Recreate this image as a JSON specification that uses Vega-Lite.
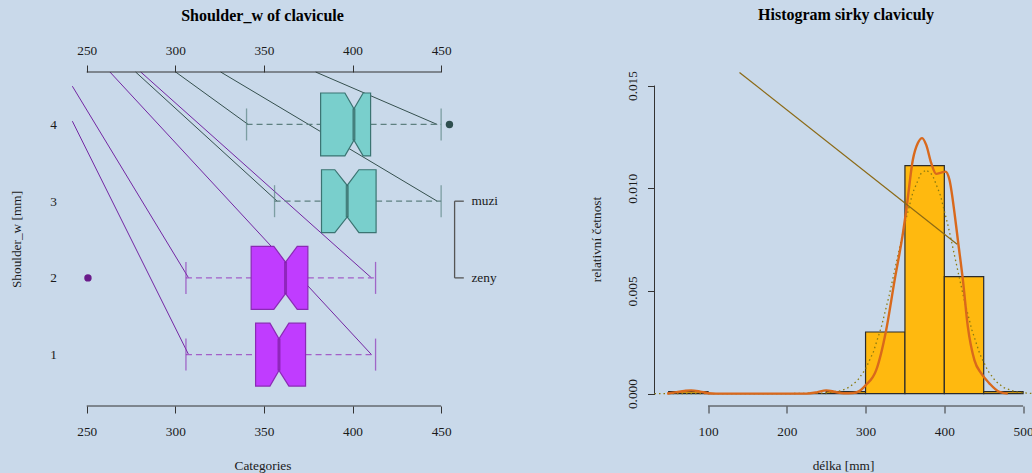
{
  "$schema": "https://vega.github.io/schema/vega-lite/v6.json",
  "background": "#c9d9ea",
  "padding": {"left": 9, "top": 6, "right": 0, "bottom": 0},
  "bounds": "flush",
  "spacing": 201.5,
  "config": {
    "view": {"stroke": null},
    "font": "Liberation Serif",
    "axis": {"labelFont": "Liberation Serif", "labelFontSize": 13.3, "labelColor": "#1a1a1a", "titleFont": "Liberation Serif", "titleFontSize": 13.3, "titleFontWeight": "normal", "titleColor": "#1a1a1a", "tickColor": "#333333", "tickSize": 7, "grid": false, "domain": false, "labelFlush": false, "labelOverlap": false},
    "title": {"font": "Liberation Serif", "fontSize": 16, "fontWeight": "bold", "color": "#000000", "baseline": "alphabetic", "frame": "group", "anchor": "middle"}
  },
  "datasets": {
    "one": [{"k": 1}],
    "seg": [
      {"g": "z", "x": 241.9, "y": 4.043, "x2": 307.5, "y2": 1},
      {"g": "z", "x": 241.9, "y": 4.499, "x2": 307.5, "y2": 2},
      {"g": "z", "x": 263.1, "y": 4.684, "x2": 410.7, "y2": 1},
      {"g": "z", "x": 280.5, "y": 4.684, "x2": 410.7, "y2": 2},
      {"g": "m", "x": 277.6, "y": 4.684, "x2": 357.5, "y2": 3},
      {"g": "m", "x": 300.2, "y": 4.684, "x2": 341.1, "y2": 4},
      {"g": "m", "x": 325.6, "y": 4.684, "x2": 447.8, "y2": 3},
      {"g": "m", "x": 379.2, "y": 4.684, "x2": 447.8, "y2": 4}
    ],
    "wh": [
      {"g": "m", "y": 4, "x": 340.2, "x2": 382.0},
      {"g": "m", "y": 4, "x": 410.2, "x2": 450},
      {"g": "m", "y": 3, "x": 356.0, "x2": 382.5},
      {"g": "m", "y": 3, "x": 413.3, "x2": 450},
      {"g": "z", "y": 2, "x": 306.0, "x2": 342.8},
      {"g": "z", "y": 2, "x": 374.8, "x2": 413},
      {"g": "z", "y": 1, "x": 306.0, "x2": 345.3},
      {"g": "z", "y": 1, "x": 373.5, "x2": 413}
    ],
    "caps": [
      {"g": "m", "y": 4, "x": 340.2}, {"g": "m", "y": 4, "x": 450},
      {"g": "m", "y": 3, "x": 356.0}, {"g": "m", "y": 3, "x": 450},
      {"g": "z", "y": 2, "x": 306.0}, {"g": "z", "y": 2, "x": 413},
      {"g": "z", "y": 1, "x": 306.0}, {"g": "z", "y": 1, "x": 413}
    ],
    "poly": [
      {"g": "m", "b": 4, "o": 1, "x": 382.0, "y": 3.59},
      {"g": "m", "b": 4, "o": 2, "x": 395.7, "y": 3.59},
      {"g": "m", "b": 4, "o": 3, "x": 400.8, "y": 3.795},
      {"g": "m", "b": 4, "o": 4, "x": 406.0, "y": 3.59},
      {"g": "m", "b": 4, "o": 5, "x": 410.2, "y": 3.59},
      {"g": "m", "b": 4, "o": 6, "x": 410.2, "y": 4.41},
      {"g": "m", "b": 4, "o": 7, "x": 406.0, "y": 4.41},
      {"g": "m", "b": 4, "o": 8, "x": 400.8, "y": 4.205},
      {"g": "m", "b": 4, "o": 9, "x": 395.7, "y": 4.41},
      {"g": "m", "b": 4, "o": 10, "x": 382.0, "y": 4.41},
      {"g": "m", "b": 3, "o": 1, "x": 382.5, "y": 2.59},
      {"g": "m", "b": 3, "o": 2, "x": 390.0, "y": 2.59},
      {"g": "m", "b": 3, "o": 3, "x": 397.0, "y": 2.795},
      {"g": "m", "b": 3, "o": 4, "x": 403.6, "y": 2.59},
      {"g": "m", "b": 3, "o": 5, "x": 413.3, "y": 2.59},
      {"g": "m", "b": 3, "o": 6, "x": 413.3, "y": 3.41},
      {"g": "m", "b": 3, "o": 7, "x": 403.6, "y": 3.41},
      {"g": "m", "b": 3, "o": 8, "x": 397.0, "y": 3.205},
      {"g": "m", "b": 3, "o": 9, "x": 390.0, "y": 3.41},
      {"g": "m", "b": 3, "o": 10, "x": 382.5, "y": 3.41},
      {"g": "z", "b": 2, "o": 1, "x": 342.8, "y": 1.59},
      {"g": "z", "b": 2, "o": 2, "x": 355.6, "y": 1.59},
      {"g": "z", "b": 2, "o": 3, "x": 362.2, "y": 1.795},
      {"g": "z", "b": 2, "o": 4, "x": 368.8, "y": 1.59},
      {"g": "z", "b": 2, "o": 5, "x": 374.8, "y": 1.59},
      {"g": "z", "b": 2, "o": 6, "x": 374.8, "y": 2.41},
      {"g": "z", "b": 2, "o": 7, "x": 368.8, "y": 2.41},
      {"g": "z", "b": 2, "o": 8, "x": 362.2, "y": 2.205},
      {"g": "z", "b": 2, "o": 9, "x": 355.6, "y": 2.41},
      {"g": "z", "b": 2, "o": 10, "x": 342.8, "y": 2.41},
      {"g": "z", "b": 1, "o": 1, "x": 345.3, "y": 0.59},
      {"g": "z", "b": 1, "o": 2, "x": 353.4, "y": 0.59},
      {"g": "z", "b": 1, "o": 3, "x": 358.5, "y": 0.795},
      {"g": "z", "b": 1, "o": 4, "x": 364.1, "y": 0.59},
      {"g": "z", "b": 1, "o": 5, "x": 373.5, "y": 0.59},
      {"g": "z", "b": 1, "o": 6, "x": 373.5, "y": 1.41},
      {"g": "z", "b": 1, "o": 7, "x": 364.1, "y": 1.41},
      {"g": "z", "b": 1, "o": 8, "x": 358.5, "y": 1.205},
      {"g": "z", "b": 1, "o": 9, "x": 353.4, "y": 1.41},
      {"g": "z", "b": 1, "o": 10, "x": 345.3, "y": 1.41}
    ],
    "med": [
      {"g": "m", "y": 4, "x": 400.8},
      {"g": "m", "y": 3, "x": 397.0},
      {"g": "z", "y": 2, "x": 362.2},
      {"g": "z", "y": 1, "x": 358.5}
    ],
    "out": [
      {"g": "m", "y": 4, "x": 454.7},
      {"g": "z", "y": 2, "x": 250.7}
    ],
    "leg": [
      {"label": "muzi", "y": 3},
      {"label": "zeny", "y": 2}
    ],
    "hist": [
      {"lo": 50, "hi": 100, "d": 0.0001},
      {"lo": 100, "hi": 150, "d": 0},
      {"lo": 150, "hi": 200, "d": 0},
      {"lo": 200, "hi": 250, "d": 0},
      {"lo": 250, "hi": 300, "d": 0.0001},
      {"lo": 300, "hi": 350, "d": 0.003},
      {"lo": 350, "hi": 400, "d": 0.0111},
      {"lo": 400, "hi": 450, "d": 0.0057},
      {"lo": 450, "hi": 500, "d": 0.0001}
    ],
    "kde": [
      {"x": 48, "y": 0}, {"x": 60, "y": 0.00007}, {"x": 70, "y": 0.00013}, {"x": 78.6, "y": 0.00016},
      {"x": 90, "y": 0.0001}, {"x": 100, "y": 0.00002}, {"x": 110, "y": 0}, {"x": 225, "y": 0},
      {"x": 238, "y": 0.00006}, {"x": 250, "y": 0.00016}, {"x": 262, "y": 0.00008}, {"x": 272, "y": 0.00002},
      {"x": 284, "y": 0.00003}, {"x": 292, "y": 0.00012}, {"x": 300, "y": 0.0004}, {"x": 313.5, "y": 0.00114},
      {"x": 326.2, "y": 0.0031}, {"x": 336.8, "y": 0.0055}, {"x": 347.4, "y": 0.0078}, {"x": 351.6, "y": 0.0089},
      {"x": 360, "y": 0.01138}, {"x": 366.4, "y": 0.0122}, {"x": 371.9, "y": 0.01244}, {"x": 377, "y": 0.01211},
      {"x": 383.4, "y": 0.01122}, {"x": 389.7, "y": 0.0107}, {"x": 396.1, "y": 0.01076}, {"x": 401.5, "y": 0.01081},
      {"x": 406.6, "y": 0.0104}, {"x": 413, "y": 0.00878}, {"x": 417.2, "y": 0.00748}, {"x": 423.6, "y": 0.00553},
      {"x": 429.9, "y": 0.00325}, {"x": 438.3, "y": 0.00162}, {"x": 446.9, "y": 0.00098}, {"x": 457.4, "y": 0.00049},
      {"x": 470, "y": 0.00008}, {"x": 480.6, "y": 0}
    ],
    "norm": [
      {"x": 32, "y": 0}, {"x": 200, "y": 0}, {"x": 250, "y": 0.00003}, {"x": 270, "y": 0.00015},
      {"x": 280, "y": 0.00033}, {"x": 290, "y": 0.00065}, {"x": 300, "y": 0.0012}, {"x": 310, "y": 0.00204},
      {"x": 320, "y": 0.00324}, {"x": 330, "y": 0.00478}, {"x": 340, "y": 0.00654}, {"x": 350, "y": 0.0083},
      {"x": 360, "y": 0.00979}, {"x": 370, "y": 0.0107}, {"x": 377, "y": 0.0109}, {"x": 385, "y": 0.01064},
      {"x": 395, "y": 0.00966}, {"x": 405, "y": 0.00814}, {"x": 415, "y": 0.00636}, {"x": 425, "y": 0.00461},
      {"x": 435, "y": 0.0031}, {"x": 445, "y": 0.00194}, {"x": 455, "y": 0.00113}, {"x": 465, "y": 0.00061},
      {"x": 475, "y": 0.0003}, {"x": 490, "y": 0.00009}, {"x": 500, "y": 0.00004}, {"x": 510.7, "y": 0.00001}
    ]
  },
  "hconcat": [
    {
      "width": 381,
      "height": 334,
      "title": {"text": "Shoulder_w of clavicule", "offset": 19},
      "resolve": {"axis": {"x": "independent", "y": "independent"}, "scale": {"stroke": "independent", "fill": "independent", "color": "independent"}},
      "layer": [
        {
          "data": {"name": "seg"},
          "mark": {"type": "rule", "strokeWidth": 1},
          "encoding": {
            "x": {"field": "x", "type": "quantitative", "scale": {"domain": [241.7, 456.7], "nice": false, "zero": false},
                  "axis": {"orient": "bottom", "values": [250, 300, 350, 400, 450], "labelPadding": 11.5, "title": "Categories", "titlePadding": 21}},
            "x2": {"field": "x2"},
            "y": {"field": "y", "type": "quantitative", "scale": {"domain": [0.33, 4.684], "nice": false, "zero": false},
                  "axis": {"orient": "left", "values": [1, 2, 3, 4], "ticks": false, "labelPadding": 15.5, "title": "Shoulder_w [mm]", "titlePadding": 26.6}},
            "y2": {"field": "y2"},
            "stroke": {"field": "g", "type": "nominal", "scale": {"domain": ["m", "z"], "range": ["#35504e", "#7327a3"]}, "legend": null}
          }
        },
        {
          "data": {"name": "one"},
          "mark": {"type": "rule", "color": "#333333", "strokeWidth": 1},
          "encoding": {
            "x": {"datum": 250, "type": "quantitative", "scale": {"domain": [241.7, 456.7], "nice": false, "zero": false},
                  "axis": {"orient": "top", "values": [250, 300, 350, 400, 450], "labelPadding": 8, "title": null}},
            "x2": {"datum": 450},
            "y": {"datum": 4.684, "type": "quantitative", "scale": {"domain": [0.33, 4.684], "nice": false, "zero": false}, "axis": null}
          }
        },
        {
          "data": {"name": "one"},
          "mark": {"type": "rule", "color": "#333333", "strokeWidth": 1},
          "encoding": {
            "x": {"datum": 250, "type": "quantitative", "scale": {"domain": [241.7, 456.7], "nice": false, "zero": false}, "axis": null},
            "x2": {"datum": 450},
            "y": {"datum": 0.33, "type": "quantitative", "scale": {"domain": [0.33, 4.684], "nice": false, "zero": false}, "axis": null}
          }
        },
        {
          "data": {"name": "wh"},
          "mark": {"type": "rule", "strokeWidth": 1.3, "strokeDash": [6, 4]},
          "encoding": {
            "x": {"field": "x", "type": "quantitative", "scale": {"domain": [241.7, 456.7], "nice": false, "zero": false}, "axis": null},
            "x2": {"field": "x2"},
            "y": {"field": "y", "type": "quantitative", "scale": {"domain": [0.33, 4.684], "nice": false, "zero": false}, "axis": null},
            "stroke": {"field": "g", "type": "nominal", "scale": {"domain": ["m", "z"], "range": ["#5e8080", "#a35fc8"]}, "legend": null}
          }
        },
        {
          "data": {"name": "caps"},
          "mark": {"type": "tick", "orient": "vertical", "size": 32, "thickness": 1.3},
          "encoding": {
            "x": {"field": "x", "type": "quantitative", "scale": {"domain": [241.7, 456.7], "nice": false, "zero": false}, "axis": null},
            "y": {"field": "y", "type": "quantitative", "scale": {"domain": [0.33, 4.684], "nice": false, "zero": false}, "axis": null},
            "color": {"field": "g", "type": "nominal", "scale": {"domain": ["m", "z"], "range": ["#5b8583", "#8e35b8"]}, "legend": null}
          }
        },
        {
          "data": {"name": "poly"},
          "mark": {"type": "line", "interpolate": "linear-closed", "strokeWidth": 1.2},
          "encoding": {
            "x": {"field": "x", "type": "quantitative", "scale": {"domain": [241.7, 456.7], "nice": false, "zero": false}, "axis": null},
            "y": {"field": "y", "type": "quantitative", "scale": {"domain": [0.33, 4.684], "nice": false, "zero": false}, "axis": null},
            "detail": {"field": "b", "type": "nominal"},
            "order": {"field": "o", "type": "quantitative"},
            "fill": {"field": "g", "type": "nominal", "scale": {"domain": ["m", "z"], "range": ["#79cfcc", "#c03cff"]}, "legend": null},
            "stroke": {"field": "g", "type": "nominal", "scale": {"domain": ["m", "z"], "range": ["#3b7472", "#8a2ab5"]}, "legend": null}
          }
        },
        {
          "data": {"name": "med"},
          "mark": {"type": "tick", "orient": "vertical", "size": 32, "thickness": 3},
          "encoding": {
            "x": {"field": "x", "type": "quantitative", "scale": {"domain": [241.7, 456.7], "nice": false, "zero": false}, "axis": null},
            "y": {"field": "y", "type": "quantitative", "scale": {"domain": [0.33, 4.684], "nice": false, "zero": false}, "axis": null},
            "color": {"field": "g", "type": "nominal", "scale": {"domain": ["m", "z"], "range": ["#2e5e5b", "#7a1ca0"]}, "legend": null}
          }
        },
        {
          "data": {"name": "out"},
          "mark": {"type": "circle", "size": 55, "opacity": 1},
          "encoding": {
            "x": {"field": "x", "type": "quantitative", "scale": {"domain": [241.7, 456.7], "nice": false, "zero": false}, "axis": null},
            "y": {"field": "y", "type": "quantitative", "scale": {"domain": [0.33, 4.684], "nice": false, "zero": false}, "axis": null},
            "color": {"field": "g", "type": "nominal", "scale": {"domain": ["m", "z"], "range": ["#2f4f4f", "#6a1b8a"]}, "legend": null}
          }
        },
        {
          "data": {"name": "one"},
          "mark": {"type": "rule", "color": "#555555", "strokeWidth": 1.3},
          "encoding": {
            "x": {"datum": 457.6, "type": "quantitative", "scale": {"domain": [241.7, 456.7], "nice": false, "zero": false}, "axis": null},
            "y": {"datum": 2, "type": "quantitative", "scale": {"domain": [0.33, 4.684], "nice": false, "zero": false}, "axis": null},
            "y2": {"datum": 3}
          }
        },
        {
          "data": {"name": "leg"},
          "mark": {"type": "rule", "color": "#555555", "strokeWidth": 1.3},
          "encoding": {
            "x": {"datum": 457.6, "type": "quantitative", "scale": {"domain": [241.7, 456.7], "nice": false, "zero": false}, "axis": null},
            "x2": {"datum": 462.8},
            "y": {"field": "y", "type": "quantitative", "scale": {"domain": [0.33, 4.684], "nice": false, "zero": false}, "axis": null}
          }
        },
        {
          "data": {"name": "leg"},
          "mark": {"type": "text", "align": "left", "baseline": "middle", "fontSize": 13.3, "font": "Liberation Serif", "color": "#1a1a1a"},
          "encoding": {
            "x": {"datum": 467.1, "type": "quantitative", "scale": {"domain": [241.7, 456.7], "nice": false, "zero": false}, "axis": null},
            "y": {"field": "y", "type": "quantitative", "scale": {"domain": [0.33, 4.684], "nice": false, "zero": false}, "axis": null},
            "text": {"field": "label", "type": "nominal"}
          }
        }
      ]
    },
    {
      "width": 377,
      "height": 334,
      "title": {"text": "Histogram sirky claviculy", "offset": 48, "dx": 3},
      "resolve": {"axis": {"x": "independent", "y": "independent"}},
      "layer": [
        {
          "data": {"name": "hist"},
          "mark": {"type": "rect", "fill": "#ffb90f", "stroke": "#2b2b2b", "strokeWidth": 1.2},
          "encoding": {
            "x": {"field": "lo", "type": "quantitative", "scale": {"domain": [32, 510.7], "nice": false, "zero": false},
                  "axis": {"values": [100, 200, 300, 400, 500], "labelPadding": 11.5, "title": "délka [mm]", "titlePadding": 21}},
            "x2": {"field": "hi"},
            "y": {"field": "d", "type": "quantitative", "scale": {"domain": [-0.000603, 0.01566], "nice": false, "zero": false},
                  "axis": {"values": [0, 0.005, 0.01, 0.015], "format": ".3f", "labelAngle": -90, "labelAlign": "center", "labelBaseline": "bottom", "labelPadding": 8, "title": "relativní četnost", "titlePadding": 22.5}},
            "y2": {"datum": 0}
          }
        },
        {
          "data": {"name": "norm"},
          "mark": {"type": "line", "stroke": "#8b7a10", "strokeWidth": 1.3, "strokeDash": [1.5, 3]},
          "encoding": {
            "x": {"field": "x", "type": "quantitative", "scale": {"domain": [32, 510.7], "nice": false, "zero": false}, "axis": null},
            "y": {"field": "y", "type": "quantitative", "scale": {"domain": [-0.000603, 0.01566], "nice": false, "zero": false}, "axis": null}
          }
        },
        {
          "data": {"name": "kde"},
          "mark": {"type": "line", "stroke": "#d9691c", "strokeWidth": 2.4, "interpolate": "monotone"},
          "encoding": {
            "x": {"field": "x", "type": "quantitative", "scale": {"domain": [32, 510.7], "nice": false, "zero": false}, "axis": null},
            "y": {"field": "y", "type": "quantitative", "scale": {"domain": [-0.000603, 0.01566], "nice": false, "zero": false}, "axis": null}
          }
        },
        {
          "data": {"name": "one"},
          "mark": {"type": "rule", "color": "#8b6914", "strokeWidth": 1.2},
          "encoding": {
            "x": {"datum": 139.9, "type": "quantitative", "scale": {"domain": [32, 510.7], "nice": false, "zero": false}, "axis": null},
            "y": {"datum": 0.01564, "type": "quantitative", "scale": {"domain": [-0.000603, 0.01566], "nice": false, "zero": false}, "axis": null},
            "x2": {"datum": 416.3},
            "y2": {"datum": 0.00727}
          }
        },
        {
          "data": {"name": "one"},
          "mark": {"type": "rule", "color": "#333333", "strokeWidth": 1},
          "encoding": {
            "x": {"datum": 100, "type": "quantitative", "scale": {"domain": [32, 510.7], "nice": false, "zero": false}, "axis": null},
            "x2": {"datum": 500},
            "y": {"datum": -0.000603, "type": "quantitative", "scale": {"domain": [-0.000603, 0.01566], "nice": false, "zero": false}, "axis": null}
          }
        },
        {
          "data": {"name": "one"},
          "mark": {"type": "rule", "color": "#333333", "strokeWidth": 1},
          "encoding": {
            "x": {"datum": 32, "type": "quantitative", "scale": {"domain": [32, 510.7], "nice": false, "zero": false}, "axis": null},
            "y": {"datum": 0, "type": "quantitative", "scale": {"domain": [-0.000603, 0.01566], "nice": false, "zero": false}, "axis": null},
            "y2": {"datum": 0.015}
          }
        }
      ]
    }
  ]
}
